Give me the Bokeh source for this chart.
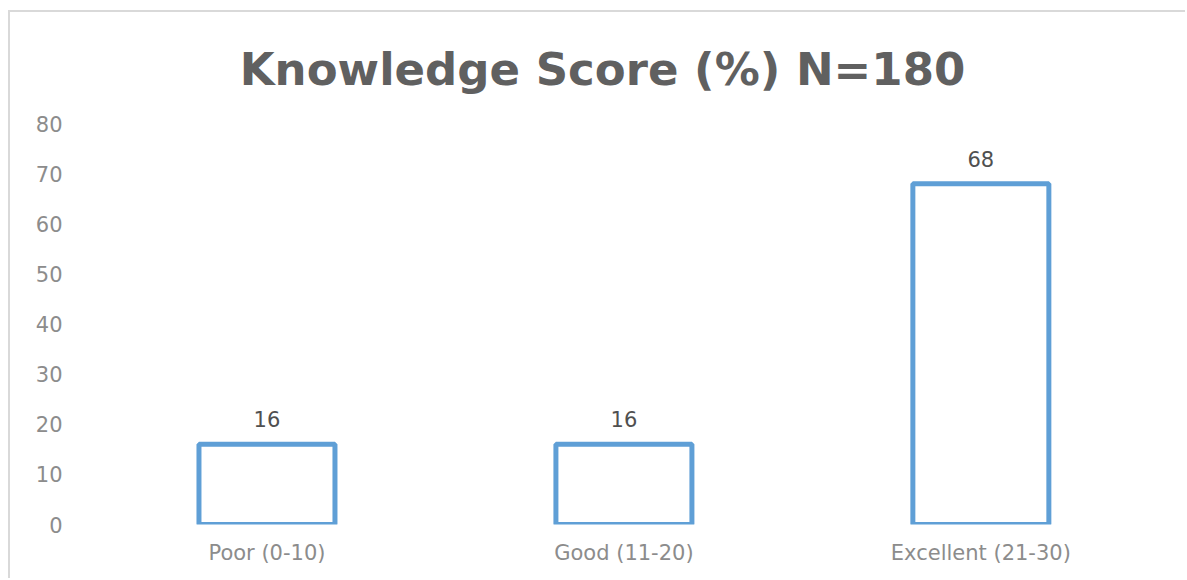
from bokeh.plotting import figure
from bokeh.models import ColumnDataSource, LabelSet, FixedTicker, Range1d
from bokeh.core.properties import value
from bokeh.embed import file_html
from bokeh.resources import INLINE

categories = ["Poor (0-10)", "Good (11-20)", "Excellent (21-30)"]
scores = [16, 16, 68]
y_ticks = [0, 10, 20, 30, 40, 50, 60, 70, 80]
title_text = "Knowledge Score (%) N=180"

FONT = "DejaVu Sans"

pos = list(range(len(categories)))
src = ColumnDataSource(dict(x=pos, val=scores, lbl=[str(v) for v in scores]))

# frame spans 88..1116 px (centred under the title); 357 px per category
p = figure(x_range=Range1d(-0.5, 2.38), y_range=Range1d(0, 80), width=1177, height=568,
           output_backend="svg", toolbar_location=None,
           min_border_left=78, min_border_right=71, min_border_top=111, min_border_bottom=56)
p.outline_line_color = None
p.grid.grid_line_color = None

p.title.text = title_text
p.title.align = "center"
p.title.text_font = FONT
p.title.text_font_size = "45px"
p.title.text_font_style = "bold"
p.title.text_color = "#606060"
p.title.standoff = 55

p.vbar(x="x", top="val", width=0.381, source=src, fill_color="white",
       line_color="#5f9fd6", line_width=5)

labels = LabelSet(x="x", y="val", text="lbl", source=src, text_align="center",
                  text_baseline="bottom", y_offset=17, text_font_size="21px",
                  text_color="#505050", text_font=value(FONT))
p.add_layout(labels)

p.yaxis.ticker = FixedTicker(ticks=y_ticks)
p.yaxis.axis_line_color = None
p.yaxis.major_tick_line_color = None
p.yaxis.minor_tick_line_color = None
p.yaxis.major_tick_out = 0
p.yaxis.major_label_standoff = 26
p.yaxis.major_label_text_font_size = "21px"
p.yaxis.major_label_text_color = "#8c8c8c"
p.yaxis.major_label_text_font = FONT

p.xaxis.ticker = FixedTicker(ticks=pos)
p.xaxis.major_label_overrides = {i: c for i, c in zip(pos, categories)}
p.xaxis.axis_line_color = None
p.xaxis.major_tick_line_color = None
p.xaxis.minor_tick_line_color = None
p.xaxis.major_tick_out = 0
p.xaxis.major_label_standoff = 16
p.xaxis.major_label_text_font_size = "21px"
p.xaxis.major_label_text_color = "#8c8c8c"
p.xaxis.major_label_text_font = FONT

p.styles = {"border-top": "2px solid #d9d9d9", "border-left": "2px solid #d9d9d9",
            "margin-top": "10px", "margin-left": "8px"}

open("out.html", "w").write(file_html(p, INLINE))
